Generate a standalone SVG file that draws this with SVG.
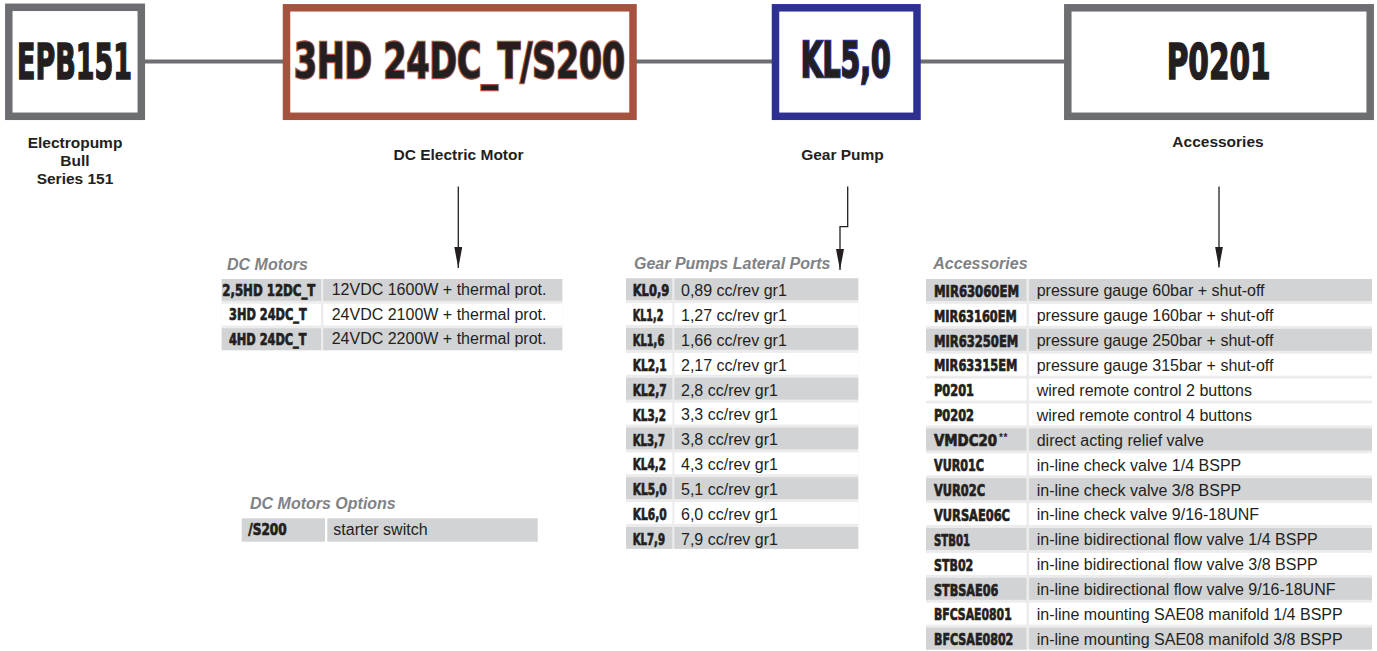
<svg xmlns="http://www.w3.org/2000/svg" width="1377" height="651" viewBox="0 0 1377 651">
<defs>
<style>
.box{fill:#fff;stroke-width:7.5}
.big{font-family:"Liberation Sans Narrow","DejaVu Sans Condensed","Liberation Sans",sans-serif;font-weight:bold;font-stretch:condensed;font-size:49px;fill:#231f20;text-anchor:middle;paint-order:stroke}
.label{font-family:"Liberation Sans",Arial,sans-serif;font-weight:bold;font-size:15.5px;fill:#231f20;text-anchor:middle}
.title{font-family:"Liberation Sans",Arial,sans-serif;font-weight:bold;font-style:italic;font-size:16px;fill:#808285}
.code{font-family:"Liberation Sans Narrow","DejaVu Sans Condensed","Liberation Sans",sans-serif;font-weight:bold;font-stretch:condensed;font-size:16px;fill:#231f20;stroke:#231f20;stroke-width:0.7}
.sup{font-family:"Liberation Sans",Arial,sans-serif;font-weight:bold;font-size:10px;fill:#231f20;letter-spacing:0.5px}
.desc{font-family:"Liberation Sans",Arial,sans-serif;font-size:16px;fill:#231f20}
.g{fill:#d1d3d4}
.w{fill:#fff}
.bg{fill:#ececed}
.link{stroke:#6d6e71;stroke-width:4;fill:none}
.arrow{stroke:#231f20;stroke-width:1.3;fill:none;marker-end:url(#ah)}
</style>
<marker id="ah" viewBox="0 0 21 8" refX="21" refY="4" markerWidth="21" markerHeight="8" markerUnits="userSpaceOnUse" orient="auto">
<path d="M0,0 L21,4 L0,8 Z" fill="#231f20"/>
</marker>
</defs>
<rect width="1377" height="651" fill="#fff"/>

<g id="connectors">
<line class="link" x1="145" y1="61.5" x2="283" y2="61.5"/>
<line class="link" x1="636" y1="61.5" x2="772" y2="61.5"/>
<line class="link" x1="920" y1="61.5" x2="1065" y2="61.5"/>
<path class="arrow" d="M458.3,186.5 V268"/>
<path class="arrow" d="M847.7,186.5 V226.7 H840 V270"/>
<path class="arrow" d="M1219,186.5 V267.5"/>
</g>

<g id="node-epb151">
<rect class="box" x="8.8" y="7.3" width="132.5" height="109" stroke="#6d6e71"/>
<text class="big" x="74.5" y="79" textLength="115" lengthAdjust="spacingAndGlyphs" stroke="#231f20" stroke-width="1.5">EPB151</text>
<text class="label" x="75" y="148">Electropump</text>
<text class="label" x="75" y="165.5">Bull</text>
<text class="label" x="75" y="183.5">Series 151</text>
</g>

<g id="node-motor">
<rect class="box" x="286.5" y="7.8" width="346.5" height="108.5" stroke="#a5533f"/>
<text class="big" x="459.5" y="78" font-size="51" textLength="331" lengthAdjust="spacingAndGlyphs" stroke="#a5533f" stroke-width="2.5">3HD 24DC_T/S200</text>
<text class="label" x="458.5" y="159.5">DC Electric Motor</text>
</g>

<g id="node-pump">
<rect class="box" x="775.5" y="7.8" width="141.5" height="108.5" stroke="#2e3192"/>
<text class="big" x="845.7" y="77" textLength="90" lengthAdjust="spacingAndGlyphs" stroke="#2e3192" stroke-width="2.5">KL5,0</text>
<text class="label" x="842.5" y="159.5">Gear Pump</text>
</g>

<g id="node-accessories">
<rect class="box" x="1067.8" y="7.8" width="302.4" height="108.5" stroke="#6d6e71"/>
<text class="big" x="1218.7" y="79" textLength="104" lengthAdjust="spacingAndGlyphs" stroke="#231f20" stroke-width="1.5">P0201</text>
<text class="label" x="1218" y="147">Accessories</text>
</g>

<g id="table-dc-motors">
<text class="title" x="227" y="269.5">DC Motors</text>
<rect class="bg" x="221.7" y="279" width="340.6" height="71.5"/>
<rect class="g" x="221.7" y="279" width="99.3" height="21.8"/><rect class="g" x="323.3" y="279" width="239" height="21.8"/>
<rect class="w" x="221.7" y="303.7" width="99.3" height="21.8"/><rect class="w" x="323.3" y="303.7" width="239" height="21.8"/>
<rect class="g" x="221.7" y="328.3" width="99.3" height="21.8"/><rect class="g" x="323.3" y="328.3" width="239" height="21.8"/>
<text class="code" x="222.3" y="295.5" textLength="93" lengthAdjust="spacingAndGlyphs">2,5HD 12DC_T</text>
<text class="desc" x="331.7" y="295">12VDC 1600W + thermal prot.</text>
<text class="code" x="229" y="320.2" textLength="77.7" lengthAdjust="spacingAndGlyphs">3HD 24DC_T</text>
<text class="desc" x="331.7" y="319.7">24VDC 2100W + thermal prot.</text>
<text class="code" x="229" y="344.8" textLength="77.5" lengthAdjust="spacingAndGlyphs">4HD 24DC_T</text>
<text class="desc" x="331.7" y="344.3">24VDC 2200W + thermal prot.</text>
</g>

<g id="table-dc-options">
<text class="title" x="250" y="508.5">DC Motors Options</text>
<rect class="g" x="241.7" y="518.3" width="83.3" height="23.4"/><rect class="g" x="327.3" y="518.3" width="210.4" height="23.4"/>
<text class="code" x="248.3" y="535.2" textLength="38.4" lengthAdjust="spacingAndGlyphs">/S200</text>
<text class="desc" x="333.3" y="535">starter switch</text>
</g>

<g id="table-gear-pumps">
<text class="title" x="634" y="268.5">Gear Pumps Lateral Ports</text>
<rect class="bg" x="626" y="278.3" width="232.3" height="270.5"/>
<rect class="g" x="626" y="278.3" width="46.3" height="21.8"/><rect class="g" x="674.3" y="278.3" width="184" height="21.8"/>
<rect class="w" x="626" y="303.2" width="46.3" height="21.8"/><rect class="w" x="674.3" y="303.2" width="184" height="21.8"/>
<rect class="g" x="626" y="328" width="46.3" height="21.8"/><rect class="g" x="674.3" y="328" width="184" height="21.8"/>
<rect class="w" x="626" y="352.9" width="46.3" height="21.8"/><rect class="w" x="674.3" y="352.9" width="184" height="21.8"/>
<rect class="g" x="626" y="377.8" width="46.3" height="21.8"/><rect class="g" x="674.3" y="377.8" width="184" height="21.8"/>
<rect class="w" x="626" y="402.7" width="46.3" height="21.8"/><rect class="w" x="674.3" y="402.7" width="184" height="21.8"/>
<rect class="g" x="626" y="427.5" width="46.3" height="21.8"/><rect class="g" x="674.3" y="427.5" width="184" height="21.8"/>
<rect class="w" x="626" y="452.4" width="46.3" height="21.8"/><rect class="w" x="674.3" y="452.4" width="184" height="21.8"/>
<rect class="g" x="626" y="477.3" width="46.3" height="21.8"/><rect class="g" x="674.3" y="477.3" width="184" height="21.8"/>
<rect class="w" x="626" y="502.1" width="46.3" height="21.8"/><rect class="w" x="674.3" y="502.1" width="184" height="21.8"/>
<rect class="g" x="626" y="527" width="46.3" height="21.8"/><rect class="g" x="674.3" y="527" width="184" height="21.8"/>
<text class="code" x="632.7" y="296.3" textLength="36.6" lengthAdjust="spacingAndGlyphs">KL0,9</text><text class="desc" x="681" y="296">0,89 cc/rev gr1</text>
<text class="code" x="632.7" y="321.2" textLength="30.7" lengthAdjust="spacingAndGlyphs">KL1,2</text><text class="desc" x="681" y="320.9">1,27 cc/rev gr1</text>
<text class="code" x="632.7" y="346" textLength="31.6" lengthAdjust="spacingAndGlyphs">KL1,6</text><text class="desc" x="681" y="345.7">1,66 cc/rev gr1</text>
<text class="code" x="632.7" y="370.9" textLength="34" lengthAdjust="spacingAndGlyphs">KL2,1</text><text class="desc" x="681" y="370.6">2,17 cc/rev gr1</text>
<text class="code" x="632.7" y="395.8" textLength="34" lengthAdjust="spacingAndGlyphs">KL2,7</text><text class="desc" x="681" y="395.5">2,8 cc/rev gr1</text>
<text class="code" x="632.7" y="420.7" textLength="33.3" lengthAdjust="spacingAndGlyphs">KL3,2</text><text class="desc" x="681" y="420.4">3,3 cc/rev gr1</text>
<text class="code" x="632.7" y="445.5" textLength="32.3" lengthAdjust="spacingAndGlyphs">KL3,7</text><text class="desc" x="681" y="445.2">3,8 cc/rev gr1</text>
<text class="code" x="632.7" y="470.4" textLength="33.3" lengthAdjust="spacingAndGlyphs">KL4,2</text><text class="desc" x="681" y="470.1">4,3 cc/rev gr1</text>
<text class="code" x="632.7" y="495.3" textLength="34" lengthAdjust="spacingAndGlyphs">KL5,0</text><text class="desc" x="681" y="495">5,1 cc/rev gr1</text>
<text class="code" x="632.7" y="520.1" textLength="34" lengthAdjust="spacingAndGlyphs">KL6,0</text><text class="desc" x="681" y="519.8">6,0 cc/rev gr1</text>
<text class="code" x="632.7" y="545" textLength="32.3" lengthAdjust="spacingAndGlyphs">KL7,9</text><text class="desc" x="681" y="544.7">7,9 cc/rev gr1</text>
</g>

<g id="table-accessories">
<text class="title" x="933.3" y="268.5">Accessories</text>
<rect class="bg" x="926" y="279" width="446" height="370.6"/>
<rect class="g" x="926" y="279" width="100.5" height="22"/><rect class="g" x="1029" y="279" width="343" height="22"/>
<rect class="w" x="926" y="303.9" width="100.5" height="22"/><rect class="w" x="1029" y="303.9" width="343" height="22"/>
<rect class="g" x="926" y="328.8" width="100.5" height="22"/><rect class="g" x="1029" y="328.8" width="343" height="22"/>
<rect class="w" x="926" y="353.7" width="100.5" height="22"/><rect class="w" x="1029" y="353.7" width="343" height="22"/>
<rect class="w" x="926" y="378.6" width="100.5" height="22"/><rect class="w" x="1029" y="378.6" width="343" height="22"/>
<rect class="w" x="926" y="403.5" width="100.5" height="22"/><rect class="w" x="1029" y="403.5" width="343" height="22"/>
<rect class="g" x="926" y="428.4" width="100.5" height="22"/><rect class="g" x="1029" y="428.4" width="343" height="22"/>
<rect class="w" x="926" y="453.3" width="100.5" height="22"/><rect class="w" x="1029" y="453.3" width="343" height="22"/>
<rect class="g" x="926" y="478.2" width="100.5" height="22"/><rect class="g" x="1029" y="478.2" width="343" height="22"/>
<rect class="w" x="926" y="503.1" width="100.5" height="22"/><rect class="w" x="1029" y="503.1" width="343" height="22"/>
<rect class="g" x="926" y="528" width="100.5" height="22"/><rect class="g" x="1029" y="528" width="343" height="22"/>
<rect class="w" x="926" y="552.9" width="100.5" height="22"/><rect class="w" x="1029" y="552.9" width="343" height="22"/>
<rect class="g" x="926" y="577.8" width="100.5" height="22"/><rect class="g" x="1029" y="577.8" width="343" height="22"/>
<rect class="w" x="926" y="602.7" width="100.5" height="22"/><rect class="w" x="1029" y="602.7" width="343" height="22"/>
<rect class="g" x="926" y="627.6" width="100.5" height="22"/><rect class="g" x="1029" y="627.6" width="343" height="22"/>
<text class="code" x="934" y="296.7" textLength="85" lengthAdjust="spacingAndGlyphs">MIR63060EM</text><text class="desc" x="1036.7" y="296.3">pressure gauge 60bar + shut-off</text>
<text class="code" x="934" y="321.6" textLength="82.7" lengthAdjust="spacingAndGlyphs">MIR63160EM</text><text class="desc" x="1036.7" y="321.2">pressure gauge 160bar + shut-off</text>
<text class="code" x="934" y="346.5" textLength="84.3" lengthAdjust="spacingAndGlyphs">MIR63250EM</text><text class="desc" x="1036.7" y="346.1">pressure gauge 250bar + shut-off</text>
<text class="code" x="934" y="371.4" textLength="83.3" lengthAdjust="spacingAndGlyphs">MIR63315EM</text><text class="desc" x="1036.7" y="371">pressure gauge 315bar + shut-off</text>
<text class="code" x="934" y="396.3" textLength="40" lengthAdjust="spacingAndGlyphs">P0201</text><text class="desc" x="1036.7" y="395.9">wired remote control 2 buttons</text>
<text class="code" x="934" y="421.2" textLength="40" lengthAdjust="spacingAndGlyphs">P0202</text><text class="desc" x="1036.7" y="420.8">wired remote control 4 buttons</text>
<text class="code" x="934" y="446.1"><tspan textLength="63" lengthAdjust="spacingAndGlyphs">VMDC20</tspan><tspan class="sup" x="999" y="441" stroke="none">**</tspan></text><text class="desc" x="1036.7" y="445.7">direct acting relief valve</text>
<text class="code" x="934" y="471" textLength="50" lengthAdjust="spacingAndGlyphs">VUR01C</text><text class="desc" x="1036.7" y="470.6">in-line check valve 1/4 BSPP</text>
<text class="code" x="934" y="495.9" textLength="51" lengthAdjust="spacingAndGlyphs">VUR02C</text><text class="desc" x="1036.7" y="495.5">in-line check valve 3/8 BSPP</text>
<text class="code" x="934" y="520.8" textLength="76" lengthAdjust="spacingAndGlyphs">VURSAE06C</text><text class="desc" x="1036.7" y="520.4">in-line check valve 9/16-18UNF</text>
<text class="code" x="934" y="545.7" textLength="36" lengthAdjust="spacingAndGlyphs">STB01</text><text class="desc" x="1036.7" y="545.3">in-line bidirectional flow valve 1/4 BSPP</text>
<text class="code" x="934" y="570.6" textLength="39.3" lengthAdjust="spacingAndGlyphs">STB02</text><text class="desc" x="1036.7" y="570.2">in-line bidirectional flow valve 3/8 BSPP</text>
<text class="code" x="934" y="595.5" textLength="64.3" lengthAdjust="spacingAndGlyphs">STBSAE06</text><text class="desc" x="1036.7" y="595.1">in-line bidirectional flow valve 9/16-18UNF</text>
<text class="code" x="934" y="620.4" textLength="77.7" lengthAdjust="spacingAndGlyphs">BFCSAE0801</text><text class="desc" x="1036.7" y="620">in-line mounting SAE08 manifold 1/4 BSPP</text>
<text class="code" x="934" y="645.3" textLength="79.3" lengthAdjust="spacingAndGlyphs">BFCSAE0802</text><text class="desc" x="1036.7" y="644.9">in-line mounting SAE08 manifold 3/8 BSPP</text>
</g>
</svg>
